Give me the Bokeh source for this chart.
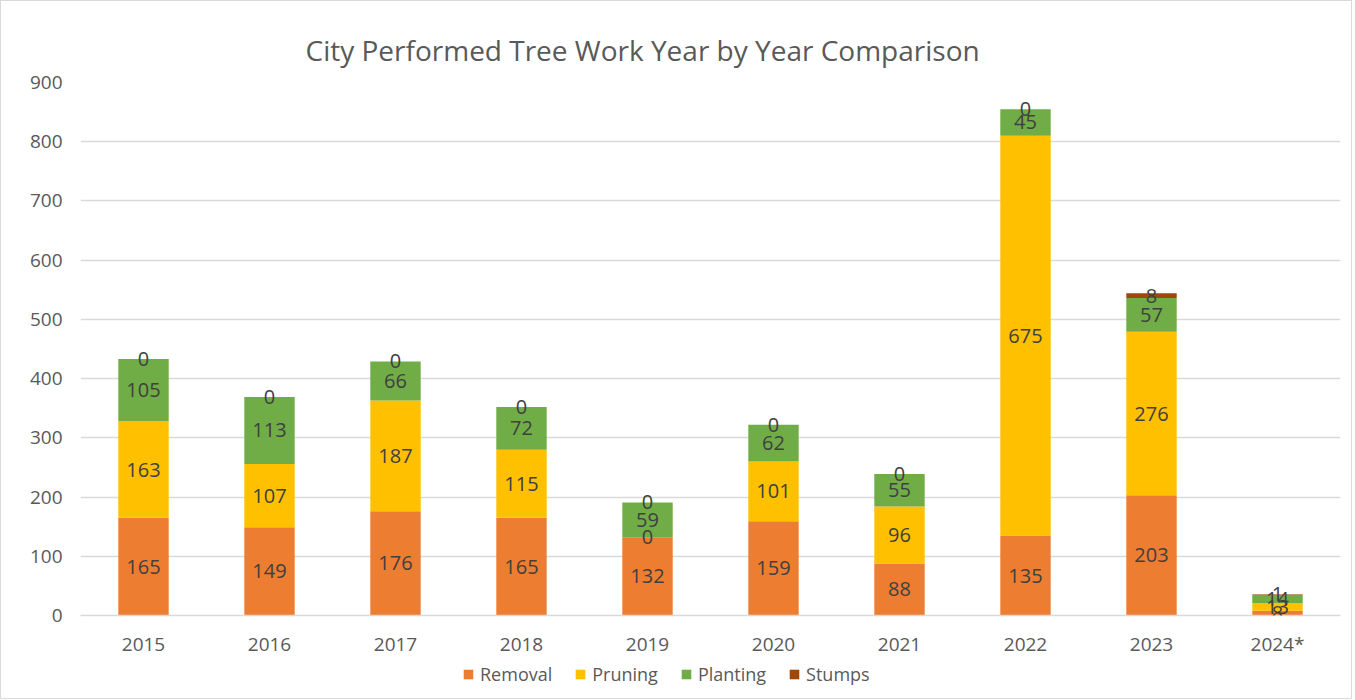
from bokeh.plotting import figure
from bokeh.layouts import column
from bokeh.models import ColumnDataSource, LabelSet, Legend, LegendItem, FixedTicker, Range1d
from bokeh.core.properties import value
from bokeh.embed import file_html
from bokeh.resources import INLINE

years = ["2015", "2016", "2017", "2018", "2019", "2020", "2021", "2022", "2023", "2024*"]
removal = [165, 149, 176, 165, 132, 159, 88, 135, 203, 8]
pruning = [163, 107, 187, 115, 0, 101, 96, 675, 276, 13]
planting = [105, 113, 66, 72, 59, 62, 55, 45, 57, 14]
stumps = [0, 0, 0, 0, 0, 0, 0, 0, 8, 1]

series = ["Removal", "Pruning", "Planting", "Stumps"]
colors = ["#ED7D31", "#FFC000", "#70AD47", "#9E480E"]
FONT = "Open Sans"

src = ColumnDataSource(dict(years=years, Removal=removal, Pruning=pruning,
                            Planting=planting, Stumps=stumps))

p = figure(x_range=years, y_range=Range1d(0, 900), width=1350, height=658,
           output_backend="svg", toolbar_location=None,
           min_border_left=79, min_border_right=11, min_border_top=81, min_border_bottom=41)

renderers = p.vbar_stack(series, x="years", width=0.4, color=colors, source=src, line_width=0)

p.title.text = "City Performed Tree Work Year by Year Comparison"
p.title.align = "left"
p.title.offset = 225
p.title.standoff = 27
p.title.text_font = FONT
p.title.text_font_size = "28px"
p.title.text_font_style = "normal"
p.title.text_color = "#595959"

p.outline_line_color = None
p.xgrid.grid_line_color = None
p.ygrid.grid_line_color = "#D9D9D9"
p.ygrid.grid_line_width = 1.3
p.yaxis.ticker = FixedTicker(ticks=list(range(0, 901, 100)))
p.yaxis.axis_line_color = None
p.yaxis.major_tick_line_color = None
p.yaxis.minor_tick_line_color = None
p.yaxis.major_label_text_font = FONT
p.yaxis.major_label_text_font_size = "19px"
p.yaxis.major_label_text_color = "#595959"
p.yaxis.major_label_standoff = 12
p.xaxis.axis_line_color = "#D9D9D9"
p.xaxis.axis_line_width = 1.3
p.xaxis.major_tick_line_color = None
p.xaxis.minor_tick_line_color = None
p.xaxis.major_label_text_font = FONT
p.xaxis.major_label_text_font_size = "19px"
p.xaxis.major_label_text_color = "#595959"
p.xaxis.major_label_standoff = 9

# data labels
lx, ly, lt = [], [], []
for i, y in enumerate(years):
    base = 0
    for vals in (removal, pruning, planting, stumps):
        v = vals[i]
        lx.append(y)
        ly.append(base + v / 2)
        lt.append(str(v))
        base += v
lsrc = ColumnDataSource(dict(x=lx, y=ly, t=lt))
p.add_layout(LabelSet(x="x", y="y", text="t", source=lsrc, text_align="center",
                      text_baseline="middle", text_font=value(FONT), text_font_size=value("20px"),
                      text_color="#404040"))

# legend strip below the chart
pl = figure(width=1350, height=39, x_range=Range1d(0, 1), y_range=Range1d(0, 1),
            output_backend="svg", toolbar_location=None,
            min_border_left=0, min_border_right=0, min_border_top=0, min_border_bottom=0)
pl.axis.visible = False
pl.grid.visible = False
pl.outline_line_color = None
lrs = [pl.vbar(x=[-10], top=[-10], bottom=[-20], width=0.1, color=c, line_width=0)
       for c in colors]
legend = Legend(items=[LegendItem(label=s, renderers=[r]) for s, r in zip(series, lrs)],
                orientation="horizontal", location=(382, 12),
                label_text_font=FONT, label_text_font_size="18px", label_text_color="#595959",
                glyph_width=12, glyph_height=12, spacing=22, label_standoff=6,
                label_height=18, border_line_color=None, background_fill_alpha=0,
                margin=0, padding=2)
pl.add_layout(legend, "center")

layout = column(p, pl, spacing=0)
layout.styles = {"border": "1.5px solid #D9D9D9"}

open("out.html", "w").write(file_html(layout, INLINE))
